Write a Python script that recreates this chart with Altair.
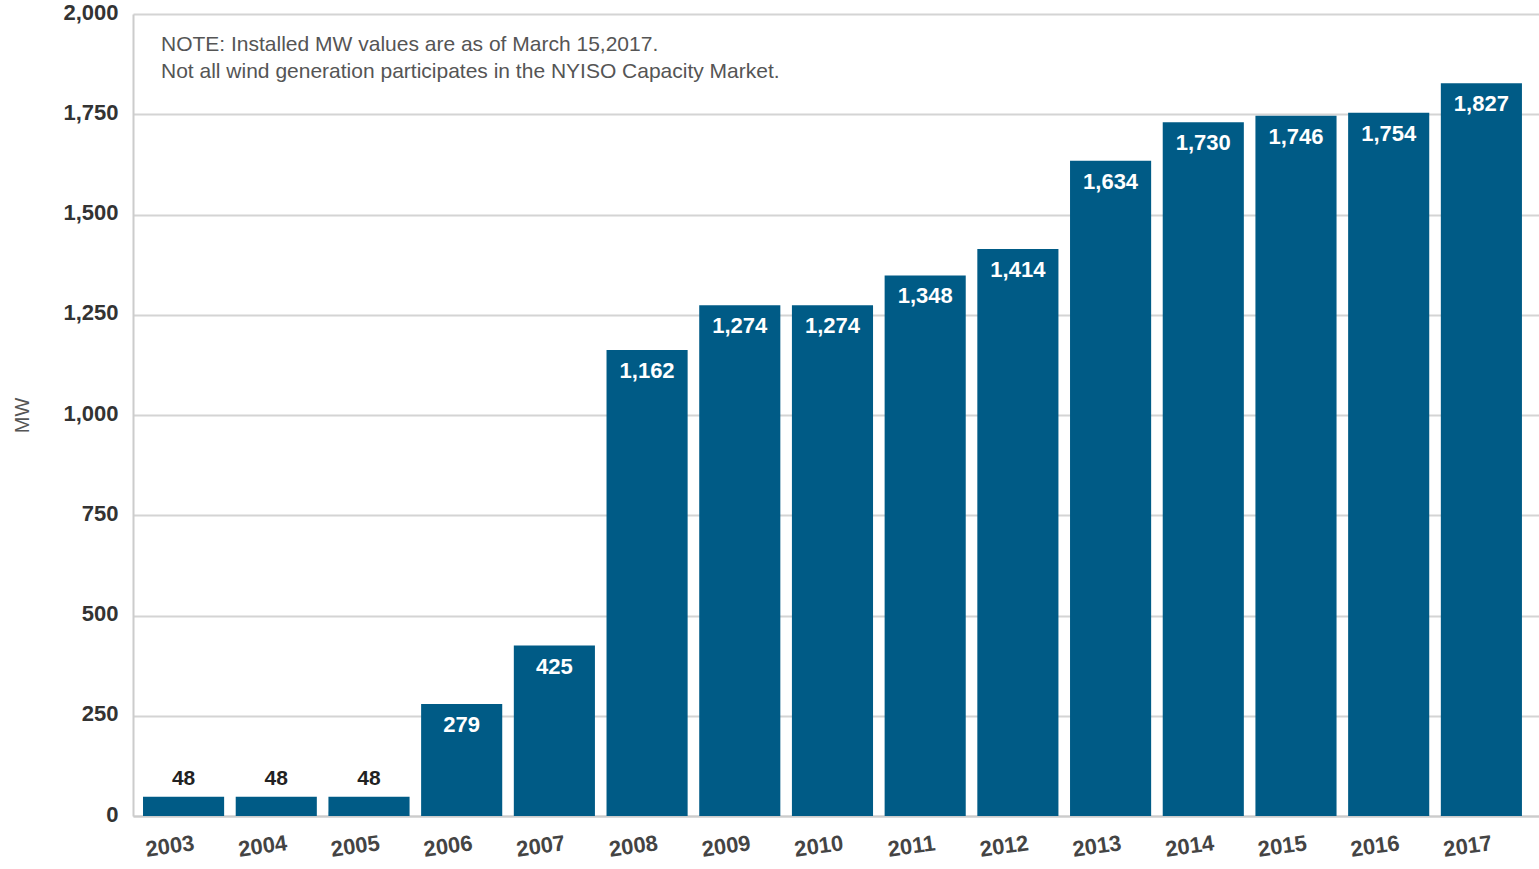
import altair as alt
import pandas as pd

years = ["2003", "2004", "2005", "2006", "2007", "2008", "2009", "2010",
         "2011", "2012", "2013", "2014", "2015", "2016", "2017"]
mw = [48, 48, 48, 279, 425, 1162, 1274, 1274, 1348, 1414, 1634, 1730, 1746, 1754, 1827]
note_lines = ["NOTE: Installed MW values are as of March 15,2017.",
              "Not all wind generation participates in the NYISO Capacity Market."]
y_ticks = [0, 250, 500, 750, 1000, 1250, 1500, 1750, 2000]

df = pd.DataFrame({"year": years, "mw": mw})
df["label"] = df["mw"].map(lambda v: f"{v:,}")
df["inside"] = df["mw"] > 150

FONT = "Liberation Sans"
BAR = "#005B86"

x = alt.X("year:N", sort=years,
          scale=alt.Scale(paddingInner=0.125, paddingOuter=0.146, align=0.37),
          axis=alt.Axis(title=None, labelAngle=-8, labelAlign="center", labelBaseline="top",
                        labelFont=FONT, labelFontSize=22,
                        labelFontWeight="bold", labelColor="#444444", labelPadding=20,
                        labelOffset=-15, ticks=False, domain=True, domainColor="#cccccc",
                        domainWidth=2, grid=False))
y = alt.Y("mw:Q", scale=alt.Scale(domain=[0, 2000], nice=False),
          axis=alt.Axis(title="MW", values=y_ticks, format=",.0f", labelFont=FONT,
                        labelFontSize=22, labelFontWeight="bold", labelColor="#333333",
                        labelPadding=15, labelOffset=-2, ticks=False, domain=True,
                        domainColor="#cccccc",
                        domainWidth=2, grid=True, gridColor="#d4d4d4", gridWidth=2,
                        titleFont=FONT, titleFontSize=20, titleFontWeight="normal",
                        titleColor="#555555", titlePadding=30))

bars = alt.Chart(df).mark_bar(color=BAR).encode(x=x, y=y)

inside = alt.Chart(df).transform_filter("datum.inside").mark_text(
    font=FONT, fontSize=22, fontWeight="bold", color="white", baseline="middle", dy=21
).encode(x=x, y=y, text="label:N")

outside = alt.Chart(df).transform_filter("!datum.inside").mark_text(
    font=FONT, fontSize=21, fontWeight="bold", color="#222222", baseline="middle", dy=-18
).encode(x=x, y=y, text="label:N")

note1 = alt.Chart(pd.DataFrame({"t": [note_lines[0]]})).mark_text(
    font=FONT, fontSize=21, color="#555555", align="left", baseline="middle"
).encode(x=alt.value(28), y=alt.value(31), text="t:N")
note2 = alt.Chart(pd.DataFrame({"t": [note_lines[1]]})).mark_text(
    font=FONT, fontSize=21, color="#555555", align="left", baseline="middle"
).encode(x=alt.value(28), y=alt.value(58), text="t:N")

chart = alt.layer(bars, inside, outside, note1, note2).properties(
    width=1406, height=802,
    autosize=alt.AutoSizeParams(type="none"),
    padding={"left": 133, "top": 14, "right": 0, "bottom": 53},
).configure_view(stroke=None)

chart.save("out.html", embed_options={"renderer": "svg", "actions": False})
